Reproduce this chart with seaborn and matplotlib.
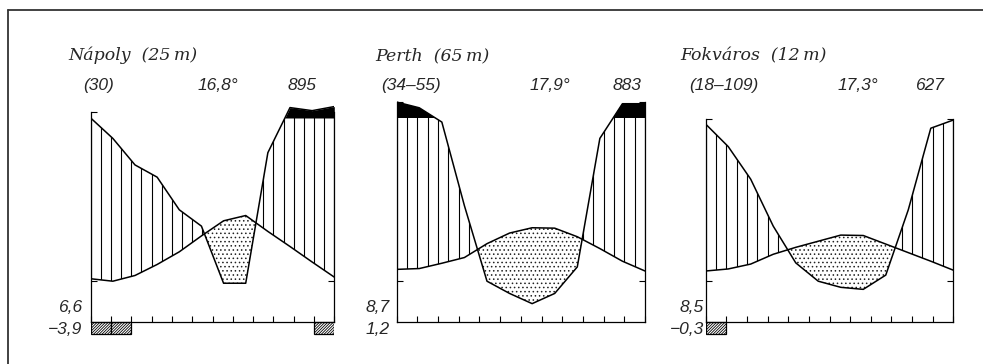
"""
Climate diagrams (Walter-Lieth style): Nápoly, Perth, Fokváros
"""

import numpy as np
import matplotlib
matplotlib.use("Agg")
import matplotlib.pyplot as plt
from matplotlib.lines import Line2D
import seaborn as sns

# DATA #########################################################################
stations = ["Nápoly", "Perth", "Fokváros"]
elevations = ["25", "65", "12"]
years = ["(30)", "(34–55)", "(18–109)"]
mean_temp = ["16,8°", "17,9°", "17,3°"]
annual_prec = ["895", "883", "627"]
cold_month_min = ["6,6", "8,7", "8,5"]
abs_min = ["−3,9", "1,2", "−0,3"]

# monthly values (southern stations start in July)
naples_temp = [10.6, 10.0, 11.4, 14.1, 17.2, 21.1, 24.8, 26.1, 22.2, 18.5, 14.7, 11.0]
naples_prec = [100, 90, 77, 71, 55, 47, 19, 19, 83, 151, 136, 156]
perth_temp = [12.9, 13.1, 14.4, 15.8, 19.2, 21.8, 23.1, 23.0, 20.9, 18.0, 14.9, 12.5]
perth_prec = [178, 150, 98, 57, 20, 14, 9, 14, 27, 90, 170, 170]
cape_temp = [12.5, 13.0, 14.2, 16.6, 18.3, 19.8, 21.3, 21.2, 19.1, 17.0, 14.9, 12.7]
cape_prec = [97, 86, 70, 47, 29, 20, 17, 16, 23, 55, 95, 99]

# months where the absolute minimum goes below zero
naples_frost = [1, 2, 12]
perth_frost = []
cape_frost = [1]

# LAYOUT #######################################################################
W, H = 983, 364
ax_left = [90.7, 396.7, 705.7]     # pixel x of panel left edges
ax_width = [243.6, 248.3, 247.6]
axis_top = [51.5, 53.9, 49.8]      # how high the side axes are drawn
text_x = [  # title, years, mean temp, annual precipitation, bottom labels
    (68, 83, 198, 288, 82),
    (375, 381, 530, 613, 390),
    (680, 689, 838, 915, 704),
]

SANS = dict(family="Liberation Sans", style="italic", size=12.5)
SERIF = dict(family="DejaVu Serif", style="italic", size=12.5)


def prec_to_axis(p):
    # 20 mm = 10 C up to 100 mm, above that 200 mm = 10 C
    p = np.asarray(p, dtype=float)
    return np.where(p <= 100, p / 2, 50 + (p - 100) / 20)


def put(fig, xp, yp, s, **kw):
    fig.text(xp / W, 1 - yp / H, s, **kw)


def draw_panel(ax, temp, prec, frost, top):
    x = np.linspace(0, 12, len(temp))
    t = np.asarray(temp, dtype=float)
    p = prec_to_axis(prec)

    # dry season (dotted)
    ax.fill_between(x, p, t, where=t > p, interpolate=True, facecolor="white",
                    edgecolor="#222222", hatch="....", linewidth=0, zorder=1)

    # humid season (vertical lines clipped to the area)
    wet = ax.fill_between(x, t, p, where=p > t, interpolate=True,
                          facecolor="none", linewidth=0, zorder=1)
    for path in wet.get_paths():
        vl = ax.vlines(np.arange(0, 12.01, 0.5), -1, 60, color="k",
                       linewidth=0.8, zorder=2)
        vl.set_clip_path(path, ax.transData)

    # very humid (> 100 mm), black
    ax.fill_between(x, 50, p, where=p > 50, interpolate=True, color="k",
                    linewidth=0, zorder=3)

    sns.lineplot(x=x, y=t, color="k", linewidth=1.1, sort=False, ax=ax,
                 zorder=4)
    sns.lineplot(x=x, y=p, color="k", linewidth=1.1, sort=False, ax=ax,
                 zorder=4)

    # frost months under the axis
    for m in frost:
        ax.bar(m - 1, -3, width=1, align="edge", color="white",
               edgecolor="k", hatch="////////////", linewidth=0.9, zorder=2)

    ax.set_xlim(0, 12)
    ax.set_ylim(-5, 56)
    ax.spines["top"].set_visible(False)
    ax.spines["bottom"].set_position(("data", 0))
    ax.spines["left"].set_bounds(0, top)
    ax.spines["right"].set_bounds(0, top)
    for s in ["bottom", "left", "right"]:
        ax.spines[s].set_visible(True)
        ax.spines[s].set_color("k")
        ax.spines[s].set_linewidth(0.9)
    ax.set_xticks(range(13))
    ax.set_yticks([10, top])
    ax.tick_params(axis="x", bottom=True, direction="in", length=4, width=0.8,
                   labelbottom=False, color="k")
    ax.tick_params(axis="y", left=True, right=True, direction="in", length=4,
                   width=0.8, labelleft=False, color="k")
    ax.set(xlabel="", ylabel="")
    ax.patch.set_alpha(0)


def main():
    sns.set_style("white")
    plt.rcParams["hatch.linewidth"] = 0.6

    fig = plt.figure(figsize=(W / 100, H / 100), dpi=100)

    temps = [naples_temp, perth_temp, cape_temp]
    precs = [naples_prec, perth_prec, cape_prec]
    frosts = [naples_frost, perth_frost, cape_frost]

    # y = 0 sits at pixel 322, 4.08 px per unit
    y0_px, scale = 322, 4.08
    bottom_px = y0_px + 5 * scale
    height_px = 61 * scale

    for i in range(3):
        ax = fig.add_axes([ax_left[i] / W, (H - bottom_px) / H,
                           ax_width[i] / W, height_px / H])
        draw_panel(ax, temps[i], precs[i], frosts[i], axis_top[i])

        tx, yx, mx, px, bx = text_x[i]
        put(fig, tx, 60, f"{stations[i]}  ({elevations[i]}\u2009m)",
            ha="left", va="baseline", **SERIF)
        put(fig, yx, 90, years[i], ha="left", va="baseline", **SANS)
        put(fig, mx, 90, mean_temp[i], ha="left", va="baseline", **SANS)
        put(fig, px, 90, annual_prec[i], ha="left", va="baseline", **SANS)
        put(fig, bx, 312, cold_month_min[i], ha="right", va="baseline", **SANS)
        put(fig, bx, 334, abs_min[i], ha="right", va="baseline", **SANS)

    # frame
    fig.add_artist(Line2D([8 / W, 8 / W], [0, 1 - 10 / H], color="#333333",
                          linewidth=1.3))
    fig.add_artist(Line2D([8 / W, 1], [1 - 10 / H, 1 - 10 / H],
                          color="#333333", linewidth=1.3))

    fig.savefig("out.png", dpi=100)


if __name__ == "__main__":
    main()
